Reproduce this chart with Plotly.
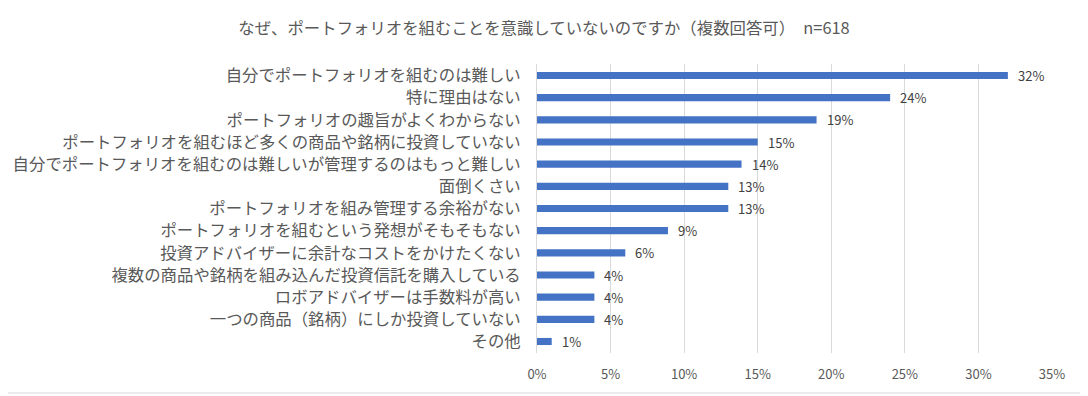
import plotly.graph_objects as go

categories = [
    "自分でポートフォリオを組むのは難しい",
    "特に理由はない",
    "ポートフォリオの趣旨がよくわからない",
    "ポートフォリオを組むほど多くの商品や銘柄に投資していない",
    "自分でポートフォリオを組むのは難しいが管理するのはもっと難しい",
    "面倒くさい",
    "ポートフォリオを組み管理する余裕がない",
    "ポートフォリオを組むという発想がそもそもない",
    "投資アドバイザーに余計なコストをかけたくない",
    "複数の商品や銘柄を組み込んだ投資信託を購入している",
    "ロボアドバイザーは手数料が高い",
    "一つの商品（銘柄）にしか投資していない",
    "その他",
]
values = [32.0, 24.0, 19.0, 15.0, 13.9, 13.0, 13.0, 8.9, 6.0, 3.9, 3.9, 3.9, 1.0]
tick_vals = [0, 5, 10, 15, 20, 25, 30, 35]
tick_text = ["0%", "5%", "10%", "15%", "20%", "25%", "30%", "35%"]
title_text = "なぜ、ポートフォリオを組むことを意識していないのですか（複数回答可）　n=618"

# page has an 8px body margin, so the figure is drawn 8px in from the top-left
OFF = 8
W, H = 1088 - OFF, 396 - OFF
ml, mr, mt, mb = 537 - OFF, 36, 64 - OFF, 43
pw, ph = W - ml - mr, H - mt - mb

font_family = "Noto Sans CJK JP, Noto Sans, sans-serif"
gray = "#595959"

fig = go.Figure(go.Bar(
    x=values,
    y=categories,
    orientation="h",
    marker=dict(color="#4472C4", line=dict(width=0)),
    width=0.32,
    hoverinfo="x+y",
))

for v, c in zip(values, categories):
    fig.add_annotation(
        x=v, y=c, xref="x", yref="y",
        text=f"{v:.0f}%",
        showarrow=False,
        xanchor="left", yanchor="middle",
        xshift=8,
        font=dict(size=13, color="#404040", family=font_family),
    )

def px_x(p):
    return (p - OFF - ml) / pw

def px_y(p):
    return 1 - (p - OFF - mt) / ph

fig.update_layout(
    width=W, height=H,
    margin=dict(l=ml, r=mr, t=mt, b=mb, pad=0),
    paper_bgcolor="white",
    plot_bgcolor="white",
    showlegend=False,
    font=dict(family=font_family, color=gray, size=13),
    title=dict(
        text=title_text,
        x=(544 - OFF) / W, xref="container", xanchor="center",
        y=1 - (28 - OFF) / H, yref="container", yanchor="middle",
        font=dict(size=16.4, color=gray, family=font_family),
    ),
    xaxis=dict(
        range=[0, 35],
        tickvals=tick_vals,
        ticktext=tick_text,
        showgrid=True,
        gridcolor="#d9d9d9",
        gridwidth=1,
        zeroline=False,
        showline=False,
        ticks="",
        ticklabelstandoff=12,
        automargin=False,
        tickfont=dict(size=13, color=gray, family=font_family),
        fixedrange=True,
    ),
    yaxis=dict(
        categoryorder="array",
        categoryarray=categories[::-1],
        autorange=True,
        showgrid=False,
        showline=True,
        linecolor="#d9d9d9",
        linewidth=1,
        ticks="",
        ticklabelstandoff=12,
        automargin=False,
        tickfont=dict(size=16.4, color=gray, family=font_family),
        fixedrange=True,
    ),
    bargap=0.68,
    shapes=[dict(
        type="rect", xref="paper", yref="paper",
        x0=px_x(1), x1=px_x(1086), y0=px_y(393), y1=px_y(1),
        line=dict(color="#d9d9d9", width=1),
        fillcolor="rgba(0,0,0,0)",
        layer="below",
    )],
)

fig.write_html("out.html")
